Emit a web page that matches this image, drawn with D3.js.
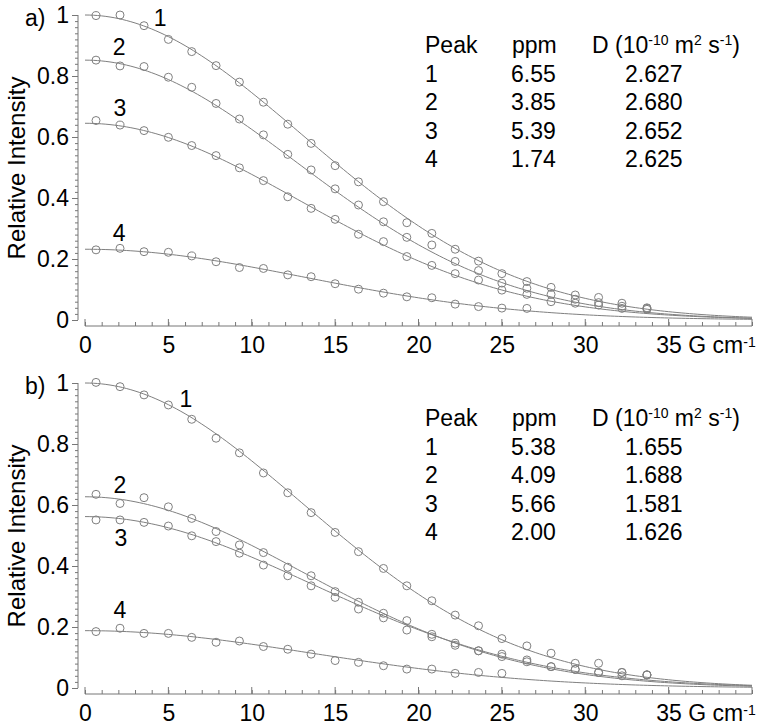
<html>
<head>
<meta charset="utf-8">
<style>
  body { margin: 0; background: #fff; }
  text { font-family: "Liberation Sans", Arial, sans-serif; fill: #000; }
</style>
</head>
<body>
<script src="https://cdn.jsdelivr.net/npm/d3@7"></script>
<script>
// gradient strengths (G cm-1)
var gradA = [0.66, 2.1, 3.54, 5.0, 6.4, 7.86, 9.26, 10.7, 12.16, 13.56, 15.0, 16.4, 17.9, 19.3, 20.8, 22.2, 23.6, 25.0, 26.5, 27.95, 29.4, 30.8, 32.2, 33.7];
var gradB = gradA;

// panel a) relative intensities
var a1 = [0.998, 1.0, 0.965, 0.920, 0.880, 0.834, 0.780, 0.714, 0.642, 0.579, 0.506, 0.453, 0.388, 0.319, 0.284, 0.232, 0.193, 0.152, 0.126, 0.107, 0.082, 0.074, 0.055, 0.040];
var a2 = [0.852, 0.833, 0.831, 0.796, 0.763, 0.710, 0.659, 0.607, 0.543, 0.492, 0.430, 0.377, 0.322, 0.271, 0.246, 0.192, 0.162, 0.121, 0.104, 0.084, 0.068, 0.057, 0.045, 0.038];
var a3 = [0.654, 0.639, 0.621, 0.599, 0.572, 0.539, 0.499, 0.457, 0.404, 0.366, 0.330, 0.281, 0.257, 0.208, 0.179, 0.152, 0.131, 0.098, 0.084, 0.060, 0.055, 0.049, 0.038, 0.035];
var a4 = [0.230, 0.235, 0.224, 0.222, 0.210, 0.191, 0.172, 0.169, 0.148, 0.142, 0.119, 0.101, 0.088, 0.076, 0.073, 0.052, 0.044, 0.039, 0.038];

// panel b) relative intensities
var b1 = [1.002, 0.988, 0.961, 0.928, 0.881, 0.819, 0.771, 0.705, 0.640, 0.575, 0.510, 0.447, 0.392, 0.335, 0.286, 0.239, 0.204, 0.162, 0.138, 0.114, 0.081, 0.081, 0.051, 0.043];
var b2 = [0.635, 0.605, 0.624, 0.594, 0.556, 0.513, 0.469, 0.444, 0.396, 0.368, 0.316, 0.281, 0.245, 0.221, 0.176, 0.147, 0.122, 0.111, 0.092, 0.070, 0.061, 0.051, 0.051, 0.043];
var b3 = [0.551, 0.551, 0.543, 0.531, 0.499, 0.480, 0.442, 0.403, 0.368, 0.335, 0.297, 0.259, 0.230, 0.190, 0.168, 0.140, 0.122, 0.103, 0.086, 0.070, 0.061, 0.051, 0.040, 0.043];
var b4 = [0.185, 0.196, 0.179, 0.179, 0.166, 0.150, 0.154, 0.136, 0.127, 0.111, 0.090, 0.084, 0.073, 0.062, 0.062, 0.048, 0.051, 0.048];

// fitted curves I = I0 exp(-k g^2)
var fitI0A = [1.0, 0.852, 0.645, 0.232];
var fitKA = [0.00294, 0.0031, 0.00301, 0.0029];
var fitI0B = [1.0, 0.627, 0.562, 0.188];
var fitKB = [0.00295, 0.00294, 0.0027, 0.0027];

// table
var peakNames = ["1", "2", "3", "4"];
var ppmA = ["6.55", "3.85", "5.39", "1.74"];
var diffA = ["2.627", "2.680", "2.652", "2.625"];
var ppmB = ["5.38", "4.09", "5.66", "2.00"];
var diffB = ["1.655", "1.688", "1.581", "1.626"];

var xTicks = [0, 5, 10, 15, 20, 25, 30, 35];
var yTicks = [0, 0.2, 0.4, 0.6, 0.8, 1];

var W = 764, H = 728;
var svg = d3.select('body').append('svg')
    .attr('width', W)
    .attr('height', H);

var x = d3.scaleLinear().domain([0, 40]).range([85, 752]);
var lineCol = '#808080';
var fs = 23;

function drawPanel(p) {
    var y = d3.scaleLinear().domain([0, 1]).range([p.y0, p.y0 - 305]);
    var g = svg.append('g');

    // y axis: minor then major
    g.append('g')
        .attr('transform', 'translate(78,0)')
        .call(d3.axisLeft(y).tickValues(d3.range(0, 1.001, 0.02)).tickSize(3).tickFormat(''))
        .call(function(s) { s.select('.domain').remove(); })
        .selectAll('line').attr('stroke', '#777');
    var ya = g.append('g')
        .attr('transform', 'translate(78,0)')
        .call(d3.axisLeft(y).tickValues(yTicks).tickSize(6).tickPadding(3).tickFormat(function(d) { return String(d); }));
    ya.select('.domain').attr('stroke', '#777').attr('d', 'M0,' + y(1) + 'V' + y(0));
    ya.selectAll('line').attr('stroke', '#777');
    ya.selectAll('text').style('font-size', fs + 'px').attr('fill', '#000');

    // x axis sits a bit below zero
    var xy = p.y0 + 6;
    g.append('g')
        .attr('transform', 'translate(0,' + xy + ')')
        .call(d3.axisTop(x).tickValues(d3.range(0, 40.001, 1)).tickSize(4).tickFormat(''))
        .call(function(s) { s.select('.domain').remove(); })
        .selectAll('line').attr('stroke', '#777');
    var xa = g.append('g')
        .attr('transform', 'translate(0,' + xy + ')')
        .call(d3.axisBottom(x).tickValues(xTicks.concat([40])).tickSize(0).tickPadding(11).tickFormat(function(d) { return d === 40 ? '' : String(d); }));
    xa.select('.domain').attr('stroke', '#777').attr('d', 'M' + x(0) + ',0H' + x(40));
    xa.selectAll('text').style('font-size', fs + 'px').attr('fill', '#000');
    g.append('g')
        .attr('transform', 'translate(0,' + xy + ')')
        .selectAll('line').data(xTicks.concat([40])).enter().append('line')
        .attr('x1', function(d) { return x(d); })
        .attr('x2', function(d) { return x(d); })
        .attr('y1', -7).attr('y2', 0)
        .attr('stroke', '#777');

    // unit on the 35 tick
    var t35 = xa.selectAll('.tick text').filter(function(d) { return d === 35; });
    t35.attr('text-anchor', 'start').attr('x', -12.8).text('35 G cm');
    t35.append('tspan').attr('dy', '-0.45em').style('font-size', '14px').text('-1');

    // y title
    svg.append('text')
        .attr('transform', 'translate(25,' + (p.y0 - 152) + ') rotate(-90)')
        .attr('text-anchor', 'middle')
        .style('font-size', '24px')
        .text('Relative Intensity');

    // panel letter
    svg.append('text')
        .attr('x', 25).attr('y', y(1) + 11)
        .style('font-size', fs + 'px')
        .text(p.letter);

    // fitted curves
    var line = d3.line()
        .x(function(d) { return x(d[0]); })
        .y(function(d) { return y(d[1]); });
    p.fitI0.forEach(function(i0, k) {
        var pts = d3.range(0, 40.001, 0.25).map(function(gv) { return [gv, i0 * Math.exp(-p.fitK[k] * gv * gv)]; });
        g.append('path')
            .attr('d', line(pts))
            .attr('fill', 'none')
            .attr('stroke', lineCol)
            .attr('stroke-width', 1);
    });

    // data circles
    p.series.forEach(function(s) {
        g.append('g').selectAll('circle')
            .data(s)
            .enter()
            .append('circle')
            .attr('cx', function(d, i) { return x(p.grad[i]); })
            .attr('cy', function(d) { return y(d); })
            .attr('r', 4)
            .attr('fill', 'none')
            .attr('stroke', lineCol)
            .attr('stroke-width', 1);
    });

    // curve labels
    p.labels.forEach(function(l, i) {
        svg.append('text')
            .attr('x', x(l[0])).attr('y', y(l[1]))
            .attr('text-anchor', 'middle')
            .style('font-size', fs + 'px')
            .text(peakNames[i]);
    });

    // table
    var tb = svg.append('g').style('font-size', fs + 'px');
    var hy = p.tableY;
    tb.append('text').attr('x', 425).attr('y', hy).text('Peak');
    tb.append('text').attr('x', 512).attr('y', hy).text('ppm');
    var hd = tb.append('text').attr('x', 592).attr('y', hy);
    hd.append('tspan').text('D (10');
    hd.append('tspan').attr('dy', -8).style('font-size', '14px').text('-10');
    hd.append('tspan').attr('dy', 8).text(' m');
    hd.append('tspan').attr('dy', -8).style('font-size', '14px').text('2');
    hd.append('tspan').attr('dy', 8).text(' s');
    hd.append('tspan').attr('dy', -8).style('font-size', '14px').text('-1');
    hd.append('tspan').attr('dy', 8).text(')');
    peakNames.forEach(function(n, i) {
        var ry = hy + 28.5 * (i + 1);
        tb.append('text').attr('x', 425).attr('y', ry).text(n);
        tb.append('text').attr('x', 511).attr('y', ry).text(p.ppm[i]);
        tb.append('text').attr('x', 625).attr('y', ry).text(p.diff[i]);
    });
}

drawPanel({
    letter: 'a)', y0: 320, grad: gradA,
    series: [a1, a2, a3, a4],
    fitI0: fitI0A, fitK: fitKA,
    labels: [[4.5, 0.965], [2.05, 0.87], [2.1, 0.67], [2.05, 0.26]],
    ppm: ppmA, diff: diffA, tableY: 53
});
drawPanel({
    letter: 'b)', y0: 688, grad: gradB,
    series: [b1, b2, b3, b4],
    fitI0: fitI0B, fitK: fitKB,
    labels: [[6.05, 0.92], [2.1, 0.64], [2.15, 0.467], [2.1, 0.23]],
    ppm: ppmB, diff: diffB, tableY: 426
});
</script>
</body>
</html>
